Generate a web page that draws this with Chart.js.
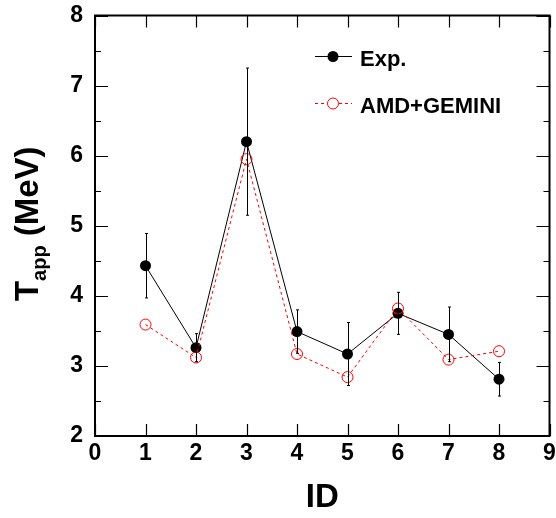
<!DOCTYPE html>
<html><head><meta charset="utf-8">
<script src="https://cdn.jsdelivr.net/npm/chart.js@4/dist/chart.umd.min.js"></script>
<style>html,body{margin:0;padding:0;background:#fff}#wrap{width:556px;height:518px;position:relative}</style>
</head><body><div id="wrap"><canvas id="c" width="556" height="518"></canvas></div>
<script>
const ids=[1,2,3,4,5,6,7,8];
const expT=[4.43,3.26,6.20,3.49,3.17,3.75,3.45,2.81];
const expErr=[0.46,0.20,1.05,0.31,0.45,0.30,0.39,0.24];
const amdT=[3.59,3.12,5.95,3.17,2.84,3.82,3.09,3.21];
const xTicks=[0,1,2,3,4,5,6,7,8,9];
const yTicks=[2,3,4,5,6,7,8];
const yMinor=[2.5,3.5,4.5,5.5,6.5,7.5];
const seriesNames=["Exp.","AMD+GEMINI"];
const xTitle="ID";

const FONT="'Liberation Sans', Arial, Helvetica, sans-serif";

const framePlugin={
  id:'frame',
  afterDatasetsDraw(chart){
    const ctx=chart.ctx, a=chart.chartArea, xs=chart.scales.x, ys=chart.scales.y;
    ctx.save();
    ctx.strokeStyle='#000'; ctx.lineWidth=1;
    ids.forEach((id,i)=>{
      const x=Math.round(xs.getPixelForValue(id))+0.5;
      const y1=ys.getPixelForValue(expT[i]+expErr[i]);
      const y2=ys.getPixelForValue(expT[i]-expErr[i]);
      ctx.beginPath();
      ctx.moveTo(x,y1);ctx.lineTo(x,y2);
      ctx.moveTo(x-1.5,y1);ctx.lineTo(x+1.5,y1);
      ctx.moveTo(x-1.5,y2);ctx.lineTo(x+1.5,y2);
      ctx.stroke();
    });
    ctx.restore();
  },
  afterDraw(chart){
    const ctx=chart.ctx, a=chart.chartArea, xs=chart.scales.x, ys=chart.scales.y;
    ctx.save();
    ctx.strokeStyle='#000';
    ctx.lineWidth=1.2;
    ctx.beginPath();
    xTicks.forEach(v=>{
      const x=Math.round(xs.getPixelForValue(v))+0.5;
      ctx.moveTo(x,a.bottom);ctx.lineTo(x,a.bottom-12);
      ctx.moveTo(x,a.top);ctx.lineTo(x,a.top+12);
    });
    yTicks.forEach(v=>{
      const y=Math.round(ys.getPixelForValue(v))+0.5;
      ctx.moveTo(a.left,y);ctx.lineTo(a.left+13,y);
      ctx.moveTo(a.right,y);ctx.lineTo(a.right-13,y);
    });
    yMinor.forEach(v=>{
      const y=Math.round(ys.getPixelForValue(v))+0.5;
      ctx.moveTo(a.left,y);ctx.lineTo(a.left+6,y);
      ctx.moveTo(a.right,y);ctx.lineTo(a.right-6,y);
    });
    ctx.stroke();
    ctx.lineWidth=2;
    ctx.strokeRect(a.left,a.top,a.right-a.left,a.bottom-a.top);
    ctx.fillStyle='#000';
    ctx.font='bold 33px '+FONT;
    ctx.textAlign='center';ctx.textBaseline='alphabetic';
    ctx.fillText(xTitle,(a.left+a.right)/2,507);
    const big='bold 33px '+FONT, small='bold 20px '+FONT;
    ctx.font=big; const wT=ctx.measureText('T').width; const wM=ctx.measureText(' (MeV)').width;
    ctx.font=small; const wA=ctx.measureText('app').width;
    const tot=wT+wA+wM;
    ctx.translate(38,(a.top+a.bottom)/2-2);
    ctx.rotate(-Math.PI/2);
    ctx.textAlign='left';
    let px=-tot/2;
    ctx.font=big; ctx.fillText('T',px,0); px+=wT;
    ctx.font=small; ctx.fillText('app',px,8); px+=wA;
    ctx.font=big; ctx.fillText(' (MeV)',px,0);
    ctx.restore();
    ctx.save();
    ctx.lineWidth=1;
    ctx.strokeStyle='#000';
    ctx.beginPath();ctx.moveTo(315,56.5);ctx.lineTo(352,56.5);ctx.stroke();
    ctx.fillStyle='#000';
    ctx.beginPath();ctx.arc(333,56.5,5.5,0,Math.PI*2);ctx.fill();
    ctx.strokeStyle='#ff0000';
    ctx.setLineDash([3,3]);
    ctx.beginPath();ctx.moveTo(315,103.5);ctx.lineTo(352,103.5);ctx.stroke();
    ctx.setLineDash([]);
    ctx.fillStyle='#fff';
    ctx.beginPath();ctx.arc(333,103.5,5.5,0,Math.PI*2);ctx.fill();ctx.stroke();
    ctx.fillStyle='#000';
    ctx.font='bold 22px '+FONT;
    ctx.textAlign='left';ctx.textBaseline='alphabetic';
    ctx.fillText(seriesNames[0],360,66);
    ctx.fillText(seriesNames[1],360,113);
    ctx.restore();
  }
};

const tickFont={family:FONT,size:23,weight:'bold',lineHeight:1};
new Chart(document.getElementById('c'),{
  type:'scatter',
  data:{datasets:[
    {label:seriesNames[0],data:ids.map((x,i)=>({x,y:expT[i]})),showLine:true,
     borderColor:'#000',borderWidth:1,pointRadius:5.5,pointBackgroundColor:'#000',pointBorderColor:'#000',pointBorderWidth:0,order:2},
    {label:seriesNames[1],data:ids.map((x,i)=>({x,y:amdT[i]})),showLine:true,
     borderColor:'#ff0000',borderWidth:1,borderDash:[3,3],pointRadius:5.5,pointBackgroundColor:'rgba(0,0,0,0)',pointBorderColor:'#ff0000',pointBorderWidth:1,order:1}
  ]},
  options:{
    responsive:false,animation:false,devicePixelRatio:1,
    layout:{padding:{top:13,right:3,left:0,bottom:0}},
    plugins:{legend:{display:false},tooltip:{enabled:false}},
    scales:{
      x:{type:'linear',min:0,max:9,
        ticks:{stepSize:1,font:tickFont,color:'#000',padding:-2,maxRotation:0,autoSkip:false},
        grid:{display:false},border:{display:false},
        afterFit(s){s.height=82;}},
      y:{type:'linear',min:2,max:8,
        ticks:{stepSize:1,font:tickFont,color:'#000',padding:4},
        grid:{display:false},border:{display:false},
        afterFit(s){s.width=95;}}
    }
  },
  plugins:[framePlugin]
});
</script></body></html>
